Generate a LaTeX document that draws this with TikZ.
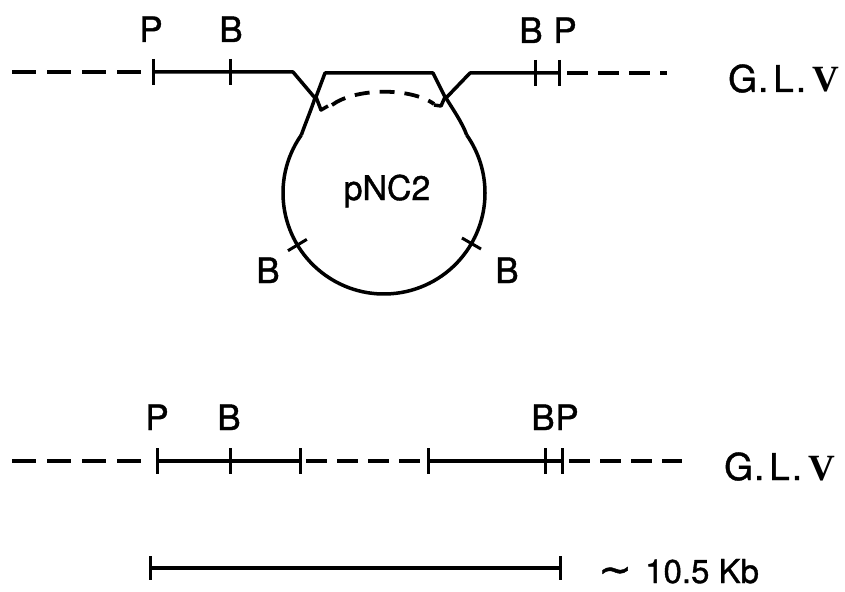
\documentclass[tikz,border=0pt]{standalone}
\usepackage{fontspec}
\usetikzlibrary{calc}
\setmainfont[FakeBold=1.1]{TeX Gyre Heros}
\newfontfamily\romanV{Liberation Serif}
\newfontfamily\symf[FakeBold=1.1]{DejaVu Sans}
\begin{document}
\begin{tikzpicture}[x=1pt,y=1pt,
  seg/.style={line width=3.5pt, line join=round},
  dsh/.style={line width=3.8pt, dash pattern=on 24pt off 11pt},
  dshb/.style={line width=3.8pt, dash pattern=on 21pt off 10pt},
  tk/.style={line width=3pt},
  lab/.style={font=\fontsize{35}{36}\selectfont, inner sep=0pt, anchor=base},
  glv/.style={font=\fontsize{37}{40}\selectfont, inner sep=0pt, anchor=base west}]
\useasboundingbox (0,0) rectangle (845,-591);
\fill[white] (0,0) rectangle (845,-591);
\newcommand{\GLV}{G\kern1pt.\kern5pt L\kern2pt.\kern6pt{\romanV\bfseries V}}
% ---------- top row ----------
\coordinate (dL) at (12,-72);
\coordinate (tP) at (153,-72);
\coordinate (tB) at (230,-72);
\coordinate (tL) at (293,-72);
\coordinate (xL) at (315,-98);
\coordinate (cc) at (384,-193);
\coordinate (cL) at ($(cc)+(145:101)$);
\coordinate (cR) at ($(cc)+(35:101)$);
\coordinate (iL) at (325,-73);
\coordinate (iR) at (433,-73);
\coordinate (xR) at (446,-98);
\coordinate (tR) at (470,-73);
\coordinate (tB2) at (535,-73);
\coordinate (tP2) at (559,-73);
\coordinate (dR) at (667,-73);
\coordinate (aL) at (332,-105);
\coordinate (aR) at (434,-104);

\draw[dsh] (dL) -- ([xshift=-4pt]tP);
\draw[seg] (tP) -- (tL) -- (xL) .. controls (311,-110) and (306,-122) .. (cL);
\draw[seg] (cL) arc[start angle=145, end angle=395, radius=101];
\draw[seg] (cR) .. controls (462,-122) and (452,-108) .. (xR) -- (tR) -- (tP2);
\draw[seg] (328,-106) -- (321,-110) -- (316,-97) -- (iL) -- (iR) -- (445,-97) -- (441,-106) -- (434,-105);
\draw[dshb, dash pattern=on 15pt off 10pt] (aL) .. controls (355,-88) and (410,-87) .. (aR);
\draw[dshb] ([xshift=8pt]tP2) -- (dR);
\foreach \c in {tP,tB,tB2,tP2} \draw[tk] ([yshift=13pt]\c) -- ([yshift=-13pt]\c);

\node[lab] (lP) at (151,-42) {P};
\node[lab] (lB) at (231,-42) {B};
\node[lab] (lB2) at (531,-43) {B};
\node[lab] (lP2) at (565,-43) {P};
\node[glv] (g1) at (728,-92) {\GLV};

% plasmid
\node[font=\fontsize{34}{36}\selectfont, inner sep=0pt, anchor=base] (pn) at (387,-200) {pNC2};
\coordinate (bL) at ($(cc)+(211:101)$);
\coordinate (bR) at ($(cc)+(330:101)$);
\draw[tk] ($(bL)+(211:11)$) -- ($(bL)+(31:11)$);
\draw[tk] ($(bR)+(330:11)$) -- ($(bR)+(150:11)$);
\node[lab] (lbL) at (268,-283) {B};
\node[lab] (lbR) at (507,-283) {B};

% ---------- bottom row ----------
\coordinate (eL) at (12,-461);
\coordinate (bP) at (157,-461);
\coordinate (bB) at (230,-461);
\coordinate (b3) at (300,-461);
\coordinate (b4) at (428,-461);
\coordinate (bB2) at (545,-461);
\coordinate (bP2) at (562,-461);
\coordinate (eR) at (682,-461);
\draw[dsh] (eL) -- ([xshift=-6pt]bP);
\draw[seg] (bP) -- (b3);
\draw[dshb] ([xshift=6pt]b3) -- ([xshift=-3pt]b4);
\draw[seg] (b4) -- (bP2);
\draw[dshb] ([xshift=7pt]bP2) -- (eR);
\foreach \c in {bP,bB,b3,b4,bB2,bP2} \draw[tk] ([yshift=13pt]\c) -- ([yshift=-13pt]\c);
\node[lab] (mP) at (157,-430) {P};
\node[lab] (mB) at (229,-430) {B};
\node[lab] (mB2) at (543,-430) {B};
\node[lab] (mP2) at (567,-430) {P};
\node[glv] (g2) at (724,-480) {\GLV};

% ---------- scale ----------
\coordinate (s1) at (150,-568);
\coordinate (s2) at (560,-568);
\draw[seg] (s1) -- (s2);
\foreach \c in {s1,s2} \draw[tk] ([yshift=12pt]\c) -- ([yshift=-12pt]\c);
\node[font=\symf\fontsize{40}{40}\selectfont, inner sep=0pt] (tl) at (615,-575) {\char"223C};
\node[font=\fontsize{33}{36}\selectfont, inner sep=0pt, anchor=base west] (kb) at (645,-583) {10.5 Kb};
\end{tikzpicture}
\end{document}
